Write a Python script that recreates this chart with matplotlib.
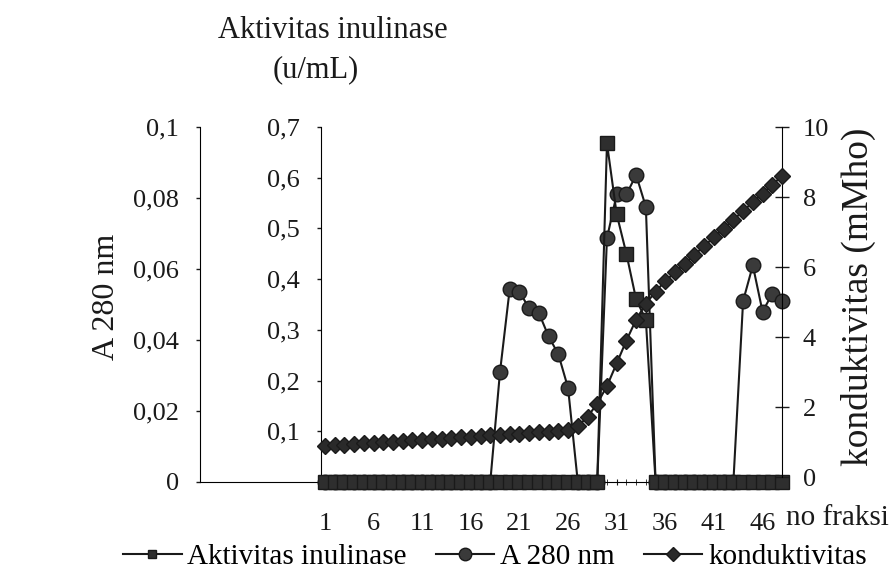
import matplotlib.pyplot as plt
import matplotlib.lines as mlines

plt.rcParams['font.family'] = ['Liberation Serif', 'DejaVu Serif']

# fractions collected from the column
fraksi = list(range(1, 49))

aktivitas = [0, 0, 0, 0, 0, 0, 0, 0, 0, 0,
             0, 0, 0, 0, 0, 0, 0, 0, 0, 0,
             0, 0, 0, 0, 0, 0, 0, 0, 0, 0.668,
             0.528, 0.45, 0.36, 0.32, 0, 0, 0, 0, 0, 0,
             0, 0, 0, 0, 0, 0, 0, 0]

a280 = [0, 0, 0, 0, 0, 0, 0, 0, 0, 0,
        0, 0, 0, 0, 0, 0, 0, 0, 0.031, 0.0544,
        0.0535, 0.049, 0.0476, 0.041, 0.036, 0.0265, 0, 0, 0, 0.0687,
        0.081, 0.081, 0.0865, 0.0775, 0, 0, 0, 0, 0, 0,
        0, 0, 0, 0.051, 0.061, 0.048, 0.053, 0.051]

konduktivitas = [0.90, 0.91, 0.93, 0.95, 0.96, 0.98, 1.00, 1.01, 1.03, 1.05,
                 1.07, 1.08, 1.10, 1.12, 1.14, 1.15, 1.17, 1.19, 1.21, 1.22,
                 1.24, 1.26, 1.28, 1.30, 1.32, 1.34, 1.45, 1.72, 2.10, 2.60,
                 3.25, 3.90, 4.50, 4.95, 5.30, 5.60, 5.85, 6.10, 6.35, 6.60,
                 6.85, 7.10, 7.35, 7.60, 7.85, 8.10, 8.35, 8.60]

xtick_vals = [1, 6, 11, 16, 21, 26, 31, 36, 41, 46]
a280_ticks = [0, 0.02, 0.04, 0.06, 0.08, 0.1]
a280_labels = ["0", "0,02", "0,04", "0,06", "0,08", "0,1"]
akt_ticks = [0.1, 0.2, 0.3, 0.4, 0.5, 0.6, 0.7]
akt_labels = ["0,1", "0,2", "0,3", "0,4", "0,5", "0,6", "0,7"]
kond_ticks = [0, 2, 4, 6, 8, 10]

W, H = 896, 582
fig = plt.figure(figsize=(W / 100, H / 100), dpi=100)
ax = fig.add_axes([200 / W, 1 - 482 / H, 582 / W, 355 / H])
ax_akt = ax.twinx()
ax_kond = ax.twinx()

ink = "#1a1a1a"
ax_akt.plot(fraksi, aktivitas, color=ink, lw=1.5, marker="s", ms=10,
            mfc="#2e2e2e", mec=ink, zorder=3, clip_on=False)
ax.plot(fraksi, a280, color=ink, lw=1.5, marker="o", ms=10.5,
        mfc="#3a3a3a", mec=ink, zorder=4, clip_on=False)
ax_kond.plot(fraksi, konduktivitas, color=ink, lw=1.5, marker="D", ms=8,
             mfc="#2a2a2a", mec=ink, zorder=5, clip_on=False)

# left axis: A 280 nm
ax.set_xlim(-11.85, 48)
ax.set_ylim(0, 0.1)
ax.set_yticks(a280_ticks)
ax.set_yticklabels(a280_labels, fontsize=19)
ax.tick_params(axis="y", length=3, width=1, pad=12, colors=ink)
ax.spines["top"].set_visible(False)
ax.spines["right"].set_visible(False)
ax.set_xticks(xtick_vals)
ax.set_xticklabels([str(v) for v in xtick_vals], fontsize=19)
ax.set_xticks(fraksi, minor=True)
ax.tick_params(axis="x", which="both", direction="inout", length=5,
               pad=20, colors=ink)

# middle axis: aktivitas inulinase
ax_akt.set_ylim(0, 0.7)
ax_akt.spines["left"].set_position(("data", 0.6))
ax_akt.spines["left"].set_visible(True)
ax_akt.spines["right"].set_visible(False)
ax_akt.spines["top"].set_visible(False)
ax_akt.spines["bottom"].set_visible(False)
ax_akt.yaxis.set_ticks_position("left")
ax_akt.yaxis.set_label_position("left")
ax_akt.set_yticks(akt_ticks)
ax_akt.set_yticklabels(akt_labels, fontsize=19)
ax_akt.tick_params(axis="y", length=3, width=1, pad=12, colors=ink)

# right axis: konduktivitas
ax_kond.set_ylim(-0.14, 9.86)
ax_kond.spines["left"].set_visible(False)
ax_kond.spines["top"].set_visible(False)
ax_kond.spines["bottom"].set_visible(False)
ax_kond.spines["right"].set_bounds(0, 10)
ax_kond.set_yticks(kond_ticks)
ax_kond.set_yticklabels([str(v) for v in kond_ticks], fontsize=19)
ax_kond.tick_params(axis="y", direction="inout", length=10, width=1,
                    pad=10, colors=ink)

fig.text(333 / W, 1 - 31 / H, "Aktivitas inulinase", fontsize=22,
         ha="center", va="center", color=ink)
fig.text(316 / W, 1 - 70 / H, "(u/mL)", fontsize=22,
         ha="center", va="center", color=ink)
fig.text(106 / W, 1 - 297 / H, "A 280 nm", fontsize=23, rotation=90,
         ha="center", va="center", color=ink)
fig.text(858 / W, 1 - 297 / H, "konduktivitas (mMho)", fontsize=27,
         rotation=90, ha="center", va="center", color=ink)
fig.text(786 / W, 1 - 518 / H, "no fraksi", fontsize=21,
         ha="left", va="center", color=ink)

h1 = mlines.Line2D([], [], color=ink, lw=1.5, marker="s", ms=6, mfc="#2e2e2e")
h2 = mlines.Line2D([], [], color=ink, lw=1.5, marker="o", ms=9, mfc="#3a3a3a")
h3 = mlines.Line2D([], [], color=ink, lw=1.5, marker="D", ms=7, mfc="#2a2a2a")
fig.legend([h1, h2, h3], ["Aktivitas inulinase", "A 280 nm", "konduktivitas"],
           loc="center", bbox_to_anchor=(495 / W, 1 - 557 / H), ncol=3,
           frameon=False, fontsize=21, handlelength=2.0, handletextpad=0.2,
           columnspacing=1.0)

fig.savefig("out.png", dpi=100)
